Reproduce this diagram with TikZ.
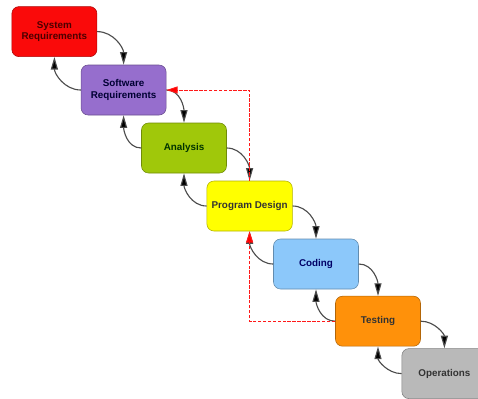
\documentclass[tikz,border=0pt]{standalone}
\usepackage{fontspec}
\setmainfont{Liberation Sans}
\usetikzlibrary{arrows.meta}
\definecolor{sysred}{RGB}{250,10,10}
\definecolor{swpurple}{RGB}{150,110,205}
\definecolor{anagreen}{RGB}{160,200,10}
\definecolor{pdyellow}{RGB}{255,255,0}
\definecolor{codblue}{RGB}{140,200,250}
\definecolor{tstorange}{RGB}{255,145,10}
\definecolor{opsgray}{RGB}{185,185,185}
\begin{document}
\begin{tikzpicture}[
  phase/.style={draw=#1!70!black, fill=#1, rounded corners=5pt, minimum width=2.125cm,
    minimum height=1.25cm, align=center, font=\fontsize{7}{8.5}\selectfont\bfseries, text=black!80},
  flow/.style={draw=black!70, line width=0.8pt, -{Triangle[length=9pt,width=5pt,fill=black]}},
  feedback/.style={draw=red!90!white, dash pattern=on 2.5pt off 1pt, line width=0.65pt,
    -{Triangle[length=8pt,width=5pt,fill=red]}}
]
\useasboundingbox (0,0) rectangle (11.95,-9.95);
\node[phase=sysred, text=red!30!black] (sys) at (1.36,-0.79) {System\\Requirements};
\node[phase=swpurple, text=blue!20!black] (swr) at (3.09,-2.25) {Software\\Requirements};
\node[phase=anagreen, text=green!20!black] (ana) at (4.6,-3.7) {Analysis};
\node[phase=pdyellow] (pd) at (6.24,-5.15) {Program Design};
\node[phase=codblue, text=blue!40!black] (cod) at (7.9,-6.6) {Coding};
\node[phase=tstorange] (tst) at (9.45,-8.03) {Testing};
\node[phase=opsgray] (ops) at (11.11,-9.34) {Operations};

% downward steps
\path[flow] (sys.east) to[out=0,in=90] (swr.north);
\path[flow] (swr.east) to[out=0,in=90] (ana.north);
\path[flow] (ana.east) to[out=0,in=90] (pd.north);
\path[flow] (pd.east) to[out=0,in=90] (cod.north);
\path[flow] (cod.east) to[out=0,in=90] (tst.north);
\path[flow] (tst.east) to[out=0,in=90] (ops.north);

% back steps
\path[flow] (swr.west) to[out=180,in=-90] (sys.south);
\path[flow] (ana.west) to[out=180,in=-90] (swr.south);
\path[flow] (pd.west) to[out=180,in=-90] (ana.south);
\path[flow] (cod.west) to[out=180,in=-90] (pd.south);
\path[flow] (tst.west) to[out=180,in=-90] (cod.south);
\path[flow] (ops.west) to[out=180,in=-90] (tst.south);

% feedback loops
\path[feedback] (pd.north) -- (pd.north |- swr.east) -- (swr.east);
\path[feedback] (tst.west) -- (pd.south |- tst.west) -- (pd.south);
\end{tikzpicture}
\end{document}
